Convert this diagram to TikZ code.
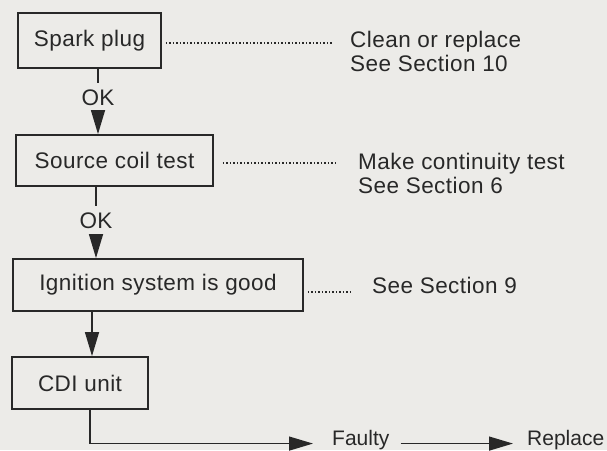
\documentclass[tikz,border=0pt]{standalone}
\usepackage{fontspec}
\setmainfont{Liberation Sans}[LetterSpace=2]
\newfontfamily\plainsans{Liberation Sans}
\usetikzlibrary{arrows.meta}
\definecolor{paper}{RGB}{236,235,232}
\definecolor{ink}{RGB}{40,40,40}
\begin{document}
\begin{tikzpicture}[x=1pt,y=-1pt,
  every node/.style={font=\fontsize{22.5}{24}\selectfont, text=ink},
  box/.style={draw=ink, line width=1.8pt, inner sep=0pt},
  txt/.style={align=left, inner sep=0pt, anchor=west},
  endtxt/.style={inner sep=0pt, anchor=base west, font=\plainsans\fontsize{21}{24}\selectfont},
  oklabel/.style={inner sep=6.5pt},
  conn/.style={draw=ink, line width=1.4pt},
  arr/.style={conn, -{Triangle[length=24pt,width=14pt]}},
  leader/.style={draw=ink, line width=1.3pt, dash pattern=on 1.3pt off 2.2pt}]
\useasboundingbox (0,0) rectangle (607,450);
\fill[paper] (0,0) rectangle (607,450);

% boxes
\node[box, minimum width=143pt, minimum height=55pt] (sp) at (89.5,40.5) {Spark plug};
\node[box, minimum width=197pt, minimum height=51pt] (sc) at (114.5,160.5) {Source coil test};
\node[box, minimum width=290pt, minimum height=52pt] (ig) at (158,285) {Ignition system is good};
\node[box, minimum width=136pt, minimum height=52pt] (cdi) at (80,383) {CDI unit};

% right-hand texts
\node[txt] (r1) at (350,51) {Clean or replace\\See Section 10};
\node[txt] (r2) at (358,173) {Make continuity test\\See Section 6};
\node[txt] (r3) at (372,285) {See Section 9};
\node[endtxt] (faulty) at (332,445) {Faulty};
\node[endtxt] (replace) at (527,445) {Replace};

% OK labels
\node[oklabel] (ok1) at (98,97.5) {OK};
\node[oklabel] (ok2) at (96,220.5) {OK};

\coordinate (x3) at (92,0);
\coordinate (x4) at (90,0);

% vertical connectors
\draw[conn] (sp.south -| ok1) -- (ok1);
\draw[arr] (ok1) -- (sc.north -| ok1);
\draw[conn] (sc.south -| ok2) -- (ok2);
\draw[arr] (ok2) -- (ig.north -| ok2);
\draw[arr] (ig.south -| x3) -- (cdi.north -| x3);
\draw[arr] (cdi.south -| x4) |- ([xshift=-19pt,yshift=-4pt]faulty.west);
\draw[arr] ([xshift=11pt,yshift=-4pt]faulty.east) -- ([xshift=-14pt,yshift=-4pt]replace.west);

% dotted leaders
\draw[leader] ([xshift=4pt,yshift=-2.5pt]sp.east) -- ([xshift=-17pt,yshift=-2.5pt]sp.east -| r1.west);
\draw[leader] ([xshift=9pt,yshift=-2.5pt]sc.east) -- ([xshift=-20pt,yshift=-2.5pt]sc.east -| r2.west);
\draw[leader] ([xshift=4pt,yshift=-7pt]ig.east) -- ([xshift=-19pt,yshift=-7pt]ig.east -| r3.west);
\end{tikzpicture}
\end{document}
